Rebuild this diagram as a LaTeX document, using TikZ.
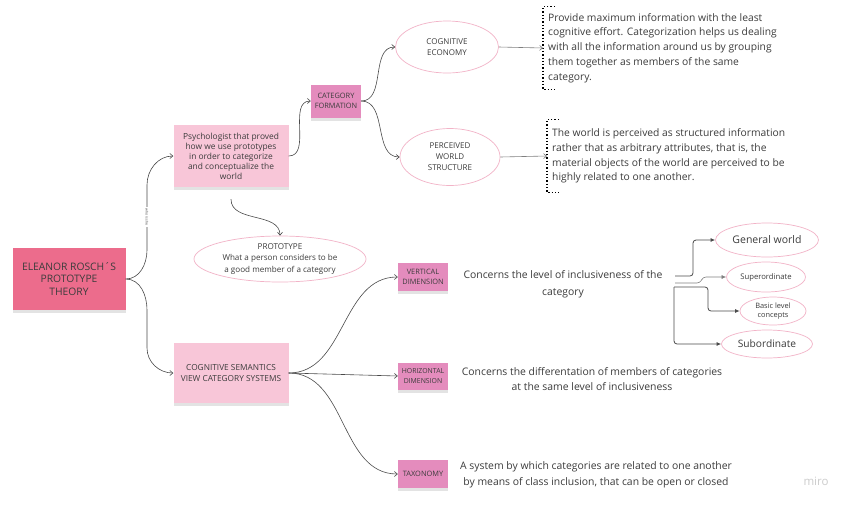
\documentclass[tikz,border=0pt]{standalone}
\usepackage{fontspec}
\setmainfont{Open Sans}
\usetikzlibrary{shapes.geometric,shadows,arrows.meta}
\definecolor{roschpink}{HTML}{EC6C8C}
\definecolor{notepink}{HTML}{F8C6D8}
\definecolor{tagpink}{HTML}{E48CBD}
\definecolor{ringpink}{HTML}{F2B3C7}
\definecolor{inkgray}{HTML}{3C3C3C}
\definecolor{linegray}{HTML}{4A4A4A}

\begin{document}
\begin{tikzpicture}[x=1pt,y=-1pt,
    shade/.style={drop shadow={shadow xshift=0pt,shadow yshift=-3pt,opacity=0.22}},
    bignote/.style={rectangle,fill=roschpink,minimum width=113pt,minimum height=62pt,align=center,text=inkgray,font=\fontsize{10.3}{12.5}\selectfont,shade},
    note/.style={rectangle,fill=notepink,minimum width=115pt,minimum height=62pt,align=center,text=inkgray,shade},
    tag/.style={rectangle,fill=tagpink,minimum width=50pt,minimum height=28pt,inner sep=1pt,align=center,text=inkgray,font=\fontsize{7.4}{10.5}\selectfont,shade},
    ring/.style={ellipse,draw=ringpink,line width=0.7pt,align=center,text=inkgray,inner sep=0pt},
    blurb/.style={align=center,text=inkgray,font=\fontsize{10.4}{15.5}\selectfont},
    info/.style={anchor=west,align=left,inner xsep=5pt,text=inkgray,font=\fontsize{10.3}{14.8}\selectfont},
    link/.style={draw=linegray,line width=0.6pt,-{Straight Barb[length=3pt,width=5pt]}},
    stub/.style={draw=linegray,line width=0.8pt,rounded corners=3pt,-{Latex[length=4.5pt,width=4pt]}}]

    \fill[white] (0,0) rectangle (848,504);
    \useasboundingbox (0,0) rectangle (848,504);

    % left column
                        \node (rosch) at (69,279) [bignote] {ELEANOR ROSCH´S\\PROTOTYPE\\THEORY};
                        \node (psych) at (231,156) [note,font=\fontsize{8.4}{10}\selectfont] {Psychologist that proved\\how we use prototypes\\in order to categorize\\and conceptualize the\\world};
                        \node (cogsem) at (231,373) [note,minimum height=60pt,font=\fontsize{8.3}{10.5}\selectfont] {COGNITIVE SEMANTICS\\VIEW CATEGORY SYSTEMS};
                        \node (proto) at (280,259) [ring,minimum width=172pt,minimum height=46pt,font=\fontsize{8.1}{11.5}\selectfont] {PROTOTYPE\\What a person considers to be\\a good member of a category};

    % category formation branch
                        \node (catform) at (336,101) [tag,minimum height=33pt] {CATEGORY\\FORMATION};
                        \node (econ) at (447,47) [ring,minimum width=103pt,minimum height=52pt,font=\fontsize{8}{10.5}\selectfont] {COGNITIVE\\ECONOMY};
                        \node (world) at (450,157) [ring,minimum width=100pt,minimum height=57pt,font=\fontsize{8}{11}\selectfont] {PERCEIVED\\WORLD\\STRUCTURE};
                        \node (econtext) at (543,48) [info,minimum height=82pt] {Provide maximum information with the least\\cognitive effort. Categorization helps us dealing\\with all the information around us by grouping\\them together as members of the same\\category.};
                        \node (worldtext) at (547,156) [info,minimum height=72pt] {The world is perceived as structured information\\rather that as arbitrary attributes, that is, the\\material objects of the world are perceived to be\\highly related to one another.};

    \foreach \t in {econtext,worldtext}
        \draw[dotted,line width=1.3pt] ([xshift=12pt]\t.north west) -- (\t.north west) -- (\t.south west) -- ([xshift=12pt]\t.south west);

    % category systems branch
                        \node (vert) at (423,277) [tag] {VERTICAL\\DIMENSION};
                        \node (horiz) at (423,376) [tag,minimum height=27pt,font=\fontsize{6.9}{9.5}\selectfont] {HORIZONTAL\\DIMENSION};
                        \node (taxo) at (423,474) [tag] {TAXONOMY};
                        \node (verttext) at (563,284) [blurb,font=\fontsize{10.4}{17}\selectfont] {Concerns the level of inclusiveness of the\\category};
                        \node (horiztext) at (592,379) [blurb,font=\fontsize{10.4}{14.5}\selectfont] {Concerns the differentation of members of categories\\at the same level of inclusiveness};
                        \node (taxotext) at (596,475) [blurb,font=\fontsize{10.4}{16}\selectfont] {A system by which categories are related to one another\\by means of class inclusion, that can be open or closed};

    % levels
                        \node (general) at (767,240) [ring,minimum width=103pt,minimum height=34pt,font=\fontsize{10.5}{11}\selectfont] {General world};
                        \node (super) at (766,277) [ring,minimum width=79pt,minimum height=30pt,font=\fontsize{7.7}{9}\selectfont] {Superordinate};
                        \node (basic) at (773,311) [ring,minimum width=66pt,minimum height=28pt,font=\fontsize{7.4}{9.5}\selectfont] {Basic level\\concepts};
                        \node (sub) at (767,344) [ring,minimum width=91pt,minimum height=28pt,font=\fontsize{10.2}{11}\selectfont] {Subordinate};
                        \coordinate (f1) at (675,276);
                        \coordinate (f2) at (675,283);
                        \coordinate (f3) at (674,287);

                        \node (miro) at (816,481) [text=gray!40,font=\fontsize{11.5}{12}\selectfont] {miro};

    % connectors
                    \draw[link] (rosch.east) to[out=0,in=-90] (147,250) -- (147,185) to[out=90,in=180] (psych.west);
                    \node (who) at (147,217) [rotate=-90,fill=white,inner sep=1pt,text=inkgray,font=\fontsize{3.5}{4}\selectfont] {who is she};
                    \draw[link] (rosch.east) to[out=0,in=90] (147,310) -- (147,348) to[out=-90,in=180] (cogsem.west);
                    \draw[link] (psych.east) to[out=0,in=180] (catform.west);
                    \draw[link] ([yshift=-12pt]psych.south) to[out=-90,in=90] (proto.north);
                    \draw[link] (catform.east) to[out=0,in=180] (econ.west);
                    \draw[link] (catform.east) to[out=0,in=180] (world.west);
                    \draw[link,draw=gray] (econ.east) -- (econtext.west);
                    \draw[link,draw=gray] (world.east) -- (worldtext.west);
                    \draw[link] (cogsem.east) to[out=0,in=180] (vert.west);
                    \draw[link] (cogsem.east) -- (horiz.west);
                    \draw[link] (cogsem.east) to[out=0,in=180] (taxo.west);

                    \draw[stub] (f1) -- (693,276) |- (general.west);
                    \draw[stub,draw=gray,line width=0.6pt] (f2) -- (700,283) -- (703,277) -- (super.west);
                    \draw[stub] (f3) -- (708,287) |- (basic.west);
                    \draw[stub] (f3) |- (sub.west);
                \end{tikzpicture}
\end{document}
